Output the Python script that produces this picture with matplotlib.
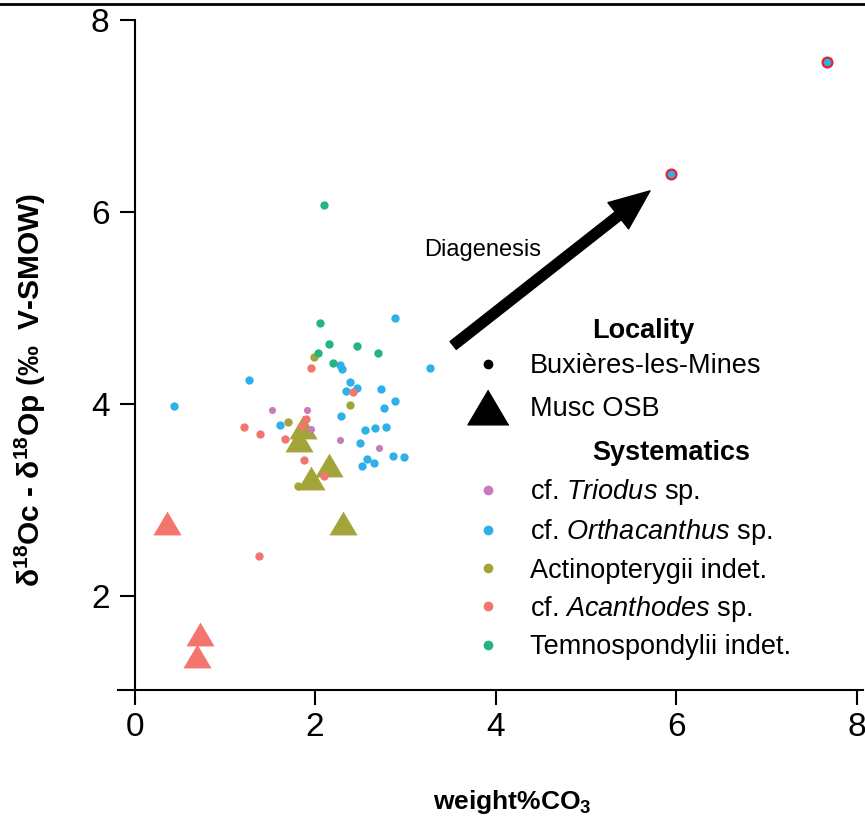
import matplotlib
matplotlib.use("Agg")
import matplotlib.pyplot as plt
from matplotlib.lines import Line2D

plt.rcParams['font.family'] = ['Liberation Sans', 'DejaVu Sans']
plt.rcParams['mathtext.fontset'] = 'custom'
plt.rcParams['mathtext.rm'] = 'Liberation Sans'
plt.rcParams['mathtext.it'] = 'Liberation Sans:italic'
plt.rcParams['mathtext.default'] = 'regular'

W, H = 865, 819
NARROW = ['Liberation Sans Narrow', 'Liberation Sans', 'DejaVu Sans']

# Buxieres-les-Mines samples (circles), one pair of lists per group
triodus_x = [1.52, 1.91, 1.96, 2.28, 2.71]
triodus_y = [3.94, 3.94, 3.74, 3.63, 3.54]

ortha_x = [2.89, 3.27, 1.27, 2.28, 2.30, 2.39, 2.47, 2.34, 2.73, 2.89, 2.76,
           2.29, 1.61, 2.55, 2.66, 2.79, 2.50, 2.86, 2.98, 2.57, 2.65, 2.52, 0.44]
ortha_y = [4.90, 4.38, 4.25, 4.41, 4.36, 4.23, 4.17, 4.14, 4.16, 4.03, 3.96,
           3.88, 3.78, 3.73, 3.75, 3.76, 3.59, 3.46, 3.45, 3.43, 3.39, 3.35, 3.98]

actino_x = [1.99, 2.39, 1.70, 1.81]
actino_y = [4.49, 3.99, 3.81, 3.15]

acan_x = [1.96, 2.42, 1.21, 1.39, 1.67, 1.90, 1.85, 1.88, 2.10, 1.38]
acan_y = [4.38, 4.13, 3.76, 3.69, 3.64, 3.84, 3.77, 3.42, 3.25, 2.42]

temno_x = [2.06, 2.15, 2.47, 2.70, 2.03, 2.20, 2.10]
temno_y = [4.84, 4.62, 4.60, 4.53, 4.53, 4.43, 6.07]

# diagenetically altered Orthacanthus samples
diag_x = [5.94, 7.67]
diag_y = [6.40, 7.56]

# Musc OSB samples (triangles)
musc_acan_x = [0.36, 0.72, 0.69]
musc_acan_y = [2.76, 1.60, 1.37]
musc_actino_x = [1.87, 1.82, 2.15, 1.96, 2.31]
musc_actino_y = [3.76, 3.63, 3.36, 3.23, 2.76]

arrow_from = (3.53, 4.61)
arrow_to = (5.71, 6.22)

c_triodus = '#C77CBB'
c_ortha = '#2EB0E8'
c_actino = '#A3A43A'
c_acan = '#F2766D'
c_temno = '#24B47E'

tri = [(0, 1), (-1.18, -1), (1.18, -1)]

fig = plt.figure(figsize=(W / 100, H / 100), dpi=100)
ax = fig.add_axes([118 / W, 1 - 690 / H, (863 - 118) / W, (690 - 20) / H])

# triangles first, circles drawn over them
ax.scatter(musc_acan_x, musc_acan_y, marker=tri, s=410, color=c_acan, linewidths=0, zorder=2)
ax.scatter(musc_actino_x, musc_actino_y, marker=tri, s=410, color=c_actino, linewidths=0, zorder=2)

ax.scatter(ortha_x, ortha_y, s=36, color=c_ortha, linewidths=0, zorder=3)
ax.scatter(actino_x, actino_y, s=36, color=c_actino, linewidths=0, zorder=3)
ax.scatter(temno_x, temno_y, s=36, color=c_temno, linewidths=0, zorder=3)
ax.scatter(acan_x, acan_y, s=36, color=c_acan, linewidths=0, zorder=3)
ax.scatter(triodus_x, triodus_y, s=26, color=c_triodus, linewidths=0, zorder=3)
ax.scatter(diag_x, diag_y, s=50, color=c_ortha, edgecolors='#E8222C', linewidths=1.6, zorder=3)

ax.annotate('', xy=arrow_to, xytext=arrow_from,
            arrowprops=dict(arrowstyle='simple,head_length=2.9,head_width=2.4,tail_width=0.72',
                            mutation_scale=10, color='black', shrinkA=0, shrinkB=0))
ax.text(3.86, 5.60, 'Diagenesis', fontsize=17, ha='center', va='center')

ax.set_xlim(-0.183, 8.07)
ax.set_ylim(1.021, 8.0)
ax.set_xticks([0, 2, 4, 6, 8])
ax.set_yticks([2, 4, 6, 8])
ax.spines['left'].set_position(('data', 0))
ax.spines['top'].set_visible(False)
ax.spines['right'].set_visible(False)
for s in ['left', 'bottom']:
    ax.spines[s].set_linewidth(1.5)
ax.tick_params(direction='out', length=11, width=1.5, labelsize=24,
               labelfontfamily=NARROW)
ax.tick_params(axis='x', pad=5)
ax.tick_params(axis='y', pad=7)

fig.text(30 / W, 1 - 390 / H, 'δ$^{18}$Oc - δ$^{18}$Op (‰  V-SMOW)', rotation=90,
         ha='center', va='center', fontsize=21.5, fontweight='bold')
fig.text(512 / W, 1 - 802 / H, 'weight%CO$_3$', ha='center', va='center',
         fontsize=19, fontweight='bold', family=NARROW)

# legends
fig.text(592 / W, 1 - 331 / H, 'Locality', ha='left', va='center', fontsize=19.5, fontweight='bold')
fig.text(592 / W, 1 - 453 / H, 'Systematics', ha='left', va='center', fontsize=19.5, fontweight='bold')

loc_handles = [
    Line2D([], [], ls='none', marker='o', markersize=6, color='black', label='Buxières-les-Mines'),
    Line2D([], [], ls='none', marker=tri, markersize=29.5, color='black', label='Musc OSB'),
]
sys_handles = [
    Line2D([], [], ls='none', marker='o', markersize=6, color=c_triodus, label='cf. $\\mathit{Triodus}$ sp.'),
    Line2D([], [], ls='none', marker='o', markersize=6, color=c_ortha, label='cf. $\\mathit{Orthacanthus}$ sp.'),
    Line2D([], [], ls='none', marker='o', markersize=6, color=c_actino, label='Actinopterygii indet.'),
    Line2D([], [], ls='none', marker='o', markersize=6, color=c_acan, label='cf. $\\mathit{Acanthodes}$ sp.'),
    Line2D([], [], ls='none', marker='o', markersize=6, color=c_temno, label='Temnospondylii indet.'),
]
common = dict(loc='upper left', bbox_transform=fig.transFigure, frameon=False, fontsize=19.5,
              handlelength=1.6, handletextpad=0.75, borderpad=0, borderaxespad=0)
leg1 = ax.legend(handles=loc_handles, bbox_to_anchor=(466 / W, 1 - 353 / H),
                 labelspacing=0.63, **common)
ax.add_artist(leg1)
ax.legend(handles=sys_handles, bbox_to_anchor=(466 / W, 1 - 477 / H),
          labelspacing=0.38, **common)

fig.add_artist(Line2D([0, 1], [1 - 4 / H, 1 - 4 / H], transform=fig.transFigure,
                      color='black', linewidth=2))

fig.savefig('out.png', dpi=100)
